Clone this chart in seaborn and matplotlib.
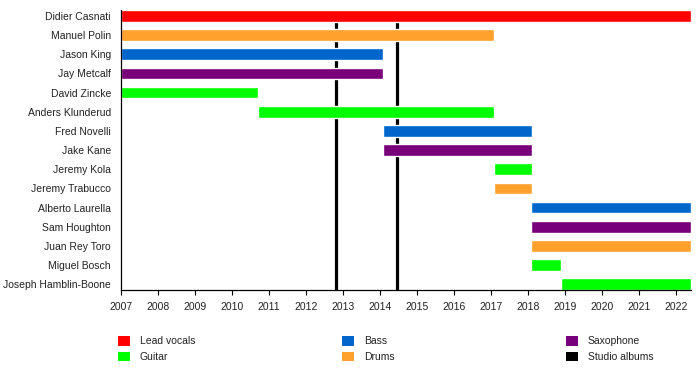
"""Línea de tiempo de miembros de la banda."""

import matplotlib

matplotlib.use("Agg")
import matplotlib.pyplot as plt
import pandas as pd
import seaborn as sns
from matplotlib.patches import Patch

# datos
miembros = [
    "Didier Casnati",
    "Manuel Polin",
    "Jason King",
    "Jay Metcalf",
    "David Zincke",
    "Anders Klunderud",
    "Fred Novelli",
    "Jake Kane",
    "Jeremy Kola",
    "Jeremy Trabucco",
    "Alberto Laurella",
    "Sam Houghton",
    "Juan Rey Toro",
    "Miguel Bosch",
    "Joseph Hamblin-Boone",
]
inicio = [2007, 2007, 2007, 2007, 2007, 2010.71, 2014.1, 2014.1, 2017.1, 2017.1,
          2018.1, 2018.1, 2018.1, 2018.1, 2018.9]
fin = [2022.41, 2017.1, 2014.1, 2014.1, 2010.71, 2017.1, 2018.12, 2018.12, 2018.12, 2018.12,
       2022.41, 2022.41, 2022.41, 2018.9, 2022.41]
roles = ["Lead vocals", "Drums", "Bass", "Saxophone", "Guitar", "Guitar", "Bass", "Saxophone",
         "Guitar", "Drums", "Bass", "Saxophone", "Drums", "Guitar", "Guitar"]
albumes = [2012.83, 2014.48]
anios = list(range(2007, 2023))

colores = {
    "Lead vocals": "#FF0000",
    "Guitar": "#00FF00",
    "Bass": "#0066CC",
    "Drums": "#FFA12C",
    "Saxophone": "#780078",
    "Studio albums": "#000000",
}

df = pd.DataFrame({"miembro": miembros, "inicio": inicio, "fin": fin, "rol": roles})
df["duracion"] = df["fin"] - df["inicio"]

sns.set_theme(style="white")
plt.rcParams["font.family"] = ["Liberation Sans", "DejaVu Sans"]

fig = plt.figure(figsize=(7, 3.9), dpi=100)
ax = fig.add_axes([0.1724, 0.2564, 0.987 - 0.1724, 0.974 - 0.2564])

alto = 0.61
for x in albumes:
    ax.axvline(x, color="black", linewidth=2.3, zorder=1)

ax.barh(
    df.index,
    df["duracion"],
    left=df["inicio"],
    height=alto,
    color=[colores[r] for r in df["rol"]],
    zorder=2,
)

ax.set_xlim(2007, max(fin))
ax.set_ylim(len(miembros) - 1 + alto / 2, -alto / 2)
ax.set_yticks(range(len(miembros)))
ax.set_yticklabels(miembros, fontsize=7.5, color="#222222")
ax.set_xticks(anios)
ax.set_xticklabels([str(a) for a in anios], fontsize=7.5, color="#222222")
ax.tick_params(axis="y", length=0, pad=7)
ax.tick_params(axis="x", length=3.5, width=0.8, color="black", pad=5, direction="out", bottom=True)

sns.despine(ax=ax)
for lado in ["left", "bottom"]:
    ax.spines[lado].set_color("black")
    ax.spines[lado].set_linewidth(0.9)

# leyenda en tres columnas
columnas = [["Lead vocals", "Guitar"], ["Bass", "Drums"], ["Saxophone", "Studio albums"]]
xs = [0.1686, 0.4886, 0.8086]
for x0, grupo in zip(xs, columnas):
    handles = [Patch(facecolor=colores[r], edgecolor="none", label=r) for r in grupo]
    leg = fig.legend(
        handles=handles,
        loc="upper left",
        bbox_to_anchor=(x0, 0.138),
        frameon=False,
        fontsize=7.5,
        handlelength=1.15,
        handleheight=1.0,
        handletextpad=0.95,
        labelspacing=0.55,
        borderpad=0,
        borderaxespad=0,
    )
    for t in leg.get_texts():
        t.set_color("#222222")

fig.savefig("out.png", dpi=100)
